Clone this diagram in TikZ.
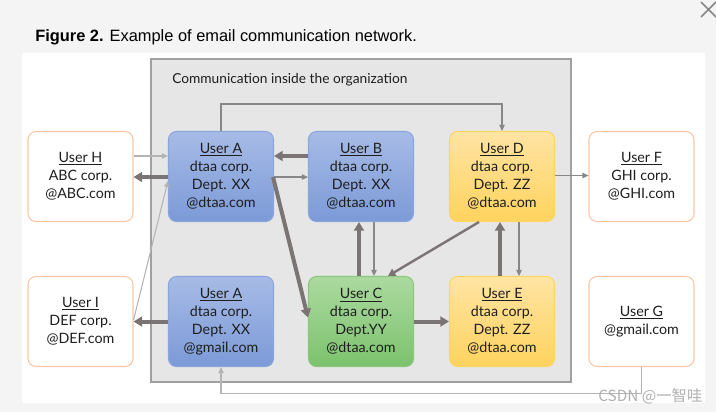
\documentclass[tikz,border=0pt]{standalone}
\usepackage{fontspec}
\setmainfont{Lato}
\newfontfamily\titlefont{Liberation Sans}
\newfontfamily\cjkfont{Noto Sans CJK SC}
\usetikzlibrary{arrows.meta,calc}
\definecolor{bgc}{HTML}{F4F4F4}
\definecolor{orgfill}{HTML}{E6E6E6}
\definecolor{orgline}{HTML}{A0A0A0}
\definecolor{arrd}{HTML}{7B7474}
\definecolor{arrm}{HTML}{878787}
\definecolor{arrl}{HTML}{B4B4B4}
\definecolor{bluetop}{HTML}{A7BBE6}
\definecolor{bluebot}{HTML}{7B9AD7}
\definecolor{blueln}{HTML}{8AA7DD}
\definecolor{greentop}{HTML}{ABDA9F}
\definecolor{greenbot}{HTML}{7CC26D}
\definecolor{greenln}{HTML}{8CC77E}
\definecolor{yeltop}{HTML}{FFE4A3}
\definecolor{yelbot}{HTML}{FFD35E}
\definecolor{yelln}{HTML}{FFD566}
\definecolor{extln}{HTML}{F8C7A6}
\definecolor{txt}{HTML}{1E1E1E}
\definecolor{wmc}{HTML}{B0B0B0}
\begin{document}
\begin{tikzpicture}[x=0.75pt,y=-0.75pt,
  user/.style={rounded corners=6pt, minimum width=78.75pt, minimum height=67.5pt,
    inner sep=0pt, align=center, text=txt, line width=0.8pt,
    font=\fontsize{10.7}{13.5}\selectfont},
  blueu/.style={user, draw=blueln, top color=bluetop, bottom color=bluebot},
  greenu/.style={user, draw=greenln, top color=greentop, bottom color=greenbot},
  yelu/.style={user, draw=yelln, top color=yeltop, bottom color=yelbot},
  extu/.style={user, draw=extln, fill=white},
  thk/.style={draw=arrd, line width=3pt, -{Triangle[length=6.5pt,width=7.5pt]}},
  med/.style={draw=arrd, line width=1.8pt, -{Triangle[length=5.5pt,width=6pt]}},
  thn/.style={draw=arrm, line width=0.9pt, -{Triangle[length=4.5pt,width=4pt]}},
  lgt/.style={draw=arrl, line width=0.8pt, -{Triangle[length=4.5pt,width=4pt]}}
]
\fill[bgc] (0,0) rectangle (716,412);
\useasboundingbox (0,0) rectangle (716,412);
\fill[white] (22,53) rectangle (705,403);
\draw[draw=orgline, fill=orgfill, line width=0.9pt] (151,59) rectangle (571,382);
% close mark
\draw[arrm, line width=1.3pt] (701,2) -- (716,17) (716,2) -- (701,17);
\node[anchor=base west, inner sep=0pt] (title) at (35,41)
  {\titlefont\fontsize{12.3}{15}\selectfont\textbf{Figure 2.} Example of email communication network.};
\node[anchor=base west, inner sep=0pt, text=txt] (org) at (172,83)
  {\fontsize{10.3}{12}\selectfont Communication inside the organization};

\node[extu] (H) at (80.5,176.5) {\underline{User H}\\ABC corp.\\@ABC.com};
\node[blueu] (A) at (221,176.5) {\underline{User A}\\dtaa corp.\\Dept. XX\\@dtaa.com};
\node[blueu] (B) at (361,176.5) {\underline{User B}\\dtaa corp.\\Dept. XX\\@dtaa.com};
\node[yelu] (D) at (502,176.5) {\underline{User D}\\dtaa corp.\\Dept. ZZ\\@dtaa.com};
\node[extu] (F) at (641.5,176.5) {\underline{User F}\\GHI corp.\\@GHI.com};
\node[extu] (I) at (80.5,321.5) {\underline{User I}\\DEF corp.\\@DEF.com};
\node[blueu] (A2) at (221,321.5) {\underline{User A}\\dtaa corp.\\Dept. XX\\@gmail.com};
\node[greenu] (C) at (361,321.5) {\underline{User C}\\dtaa corp.\\Dept.YY\\@dtaa.com};
\node[yelu] (E) at (502,321.5) {\underline{User E}\\dtaa corp.\\Dept. ZZ\\@dtaa.com};
\node[extu] (G) at (641.5,321.5) {\underline{User G}\\@gmail.com};

\draw[lgt] ($(H.east)+(0,-20.5)$) -- ($(A.west)+(0,-20.5)$);
\draw[thk] ($(A.west)+(0,0.5)$) -- ($(H.east)+(0,0.5)$);
\draw[thk] ($(B.west)+(0,-20.5)$) -- ($(A.east)+(0,-20.5)$);
\draw[thn] ($(A.east)+(0,0.5)$) -- ($(B.west)+(0,0.5)$);
\draw[thk] ($(A.east)+(-1,0.5)$) -- ($(C.west)+(0,-4)$);
\draw[thn] (A.north) -- ++(0,-27) -| (D.north);
\draw[thn] ($(D.east)+(0,-1)$) -- ($(F.west)+(0,-1)$);
\draw[thk] ($(C.north)+(-2,0)$) -- ($(B.south)+(-2,0)$);
\draw[thn] ($(B.south)+(13,0)$) -- ($(C.north)+(13,0)$);
\draw[med] ($(D.south)+(-23,0)$) -- ($(C.north)+(27,0)$);
\draw[thk] ($(E.north)+(-2,0)$) -- ($(D.south)+(-2,0)$);
\draw[thn] ($(D.south)+(17,0)$) -- ($(E.north)+(17,0)$);
\draw[thk] (C.east) -- (E.west);
\draw[thk] (A2.west) -- (I.east);
\draw[lgt] ($(I.east)+(0,-1.5)$) -- ($(A.west)+(0,4.5)$);
\draw[lgt] (G.south) -- ++(0,26) -| (A2.south);

\node[anchor=base west, inner sep=0pt, text=wmc] (wm) at (598,401)
  {\cjkfont\fontsize{11.5}{13}\selectfont CSDN @一智哇};
\end{tikzpicture}
\end{document}
